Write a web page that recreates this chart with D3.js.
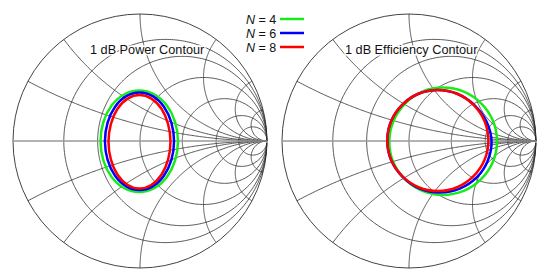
<!DOCTYPE html>
<html><head><meta charset="utf-8">
<script src="https://cdn.jsdelivr.net/npm/d3@7"></script>
<style>
body{margin:0;background:#fff;}
svg{display:block;}
text{font-family:"Liberation Sans",Arial,sans-serif;}
</style></head>
<body>
<svg id="c" width="550" height="278"></svg>
<script>
// ---- grid values (normalized impedance) ----
const resistanceValues = [0.25, 0.5, 1, 2, 4, 8];
const reactanceValues = [0.25, 0.5, 1, 2, 4, 8];

// ---- series ----
const seriesNames = ["N = 4", "N = 6", "N = 8"];
const seriesColors = ["#18ec18", "#0000ff", "#ff0000"];
const panelTitles = ["1 dB Power Contour", "1 dB Efficiency Contour"];

// Reflection-coefficient points [Re, Im]
const powerN4 = [[0.299,-0.002],[0.276,0.151],[0.210,0.281],[0.111,0.368],[-0.006,0.398],[-0.123,0.368],[-0.222,0.281],[-0.288,0.151],[-0.311,-0.002],[-0.288,-0.155],[-0.222,-0.285],[-0.123,-0.372],[-0.006,-0.402],[0.111,-0.372],[0.210,-0.285],[0.276,-0.155]];
const powerN6 = [[0.268,-0.002],[0.247,0.145],[0.188,0.270],[0.100,0.353],[-0.004,0.382],[-0.108,0.353],[-0.196,0.270],[-0.255,0.145],[-0.276,-0.002],[-0.255,-0.149],[-0.196,-0.274],[-0.108,-0.357],[-0.004,-0.386],[0.100,-0.357],[0.188,-0.274],[0.247,-0.149]];
const powerN8 = [[0.240,-0.006],[0.221,0.135],[0.169,0.254],[0.089,0.334],[-0.004,0.362],[-0.097,0.334],[-0.177,0.254],[-0.229,0.135],[-0.248,-0.006],[-0.229,-0.147],[-0.177,-0.266],[-0.097,-0.346],[-0.004,-0.374],[0.089,-0.346],[0.169,-0.266],[0.221,-0.147]];

const effN4 = [[0.693,-0.002],[0.661,0.160],[0.568,0.297],[0.431,0.389],[0.268,0.421],[0.105,0.389],[-0.030,0.295],[-0.122,0.158],[-0.155,-0.002],[-0.125,-0.164],[-0.032,-0.301],[0.105,-0.393],[0.262,-0.425],[0.431,-0.393],[0.568,-0.301],[0.661,-0.164]];
const effN6 = [[0.650,-0.004],[0.612,0.150],[0.515,0.283],[0.379,0.372],[0.227,0.402],[0.075,0.372],[-0.054,0.285],[-0.141,0.156],[-0.171,0.004],[-0.141,-0.150],[-0.050,-0.282],[0.085,-0.375],[0.240,-0.405],[0.400,-0.375],[0.535,-0.285],[0.620,-0.155]];
const effN8 = [[0.625,0.004],[0.595,0.156],[0.508,0.285],[0.379,0.372],[0.227,0.402],[0.075,0.372],[-0.054,0.285],[-0.141,0.156],[-0.171,0.004],[-0.141,-0.148],[-0.054,-0.277],[0.075,-0.364],[0.227,-0.394],[0.379,-0.364],[0.508,-0.277],[0.595,-0.148]];

const panels = [
  {cx:140, cy:141, R:127, title:panelTitles[0], tx:90, ty:54, series:[powerN4, powerN6, powerN8]},
  {cx:409, cy:141, R:127, title:panelTitles[1], tx:345, ty:54, series:[effN4, effN6, effN8]}
];

const svg = d3.select("#c");

function gamma(r, x){ // z -> Gamma
  const dr = (r+1)*(r+1) + x*x;
  return [((r*r + x*x) - 1)/dr, (2*x)/dr];
}

panels.forEach((p, pi) => {
  const xs = d3.scaleLinear().domain([-1,1]).range([p.cx-p.R, p.cx+p.R]);
  const ys = d3.scaleLinear().domain([-1,1]).range([p.cy+p.R, p.cy-p.R]);
  const line = d3.line().x(d=>xs(d[0])).y(d=>ys(d[1]));
  const g = svg.append("g");
  const clipId = "clip"+pi;
  svg.append("clipPath").attr("id", clipId).append("circle")
    .attr("cx", xs(0)).attr("cy", ys(0)).attr("r", xs(1)-xs(0)+0.5);
  const grid = g.append("g").attr("clip-path", `url(#${clipId})`)
    .attr("fill","none").attr("stroke","#2e2e2e").attr("stroke-width",0.8);

  resistanceValues.forEach(r => {
    const pts = d3.range(-89.5, 89.6, 0.5).map(a => gamma(r, Math.tan(a*Math.PI/180)));
    pts.push([1,0]);
    grid.append("path").attr("d", line(pts));
  });
  reactanceValues.forEach(xv => {
    [xv, -xv].forEach(x => {
      const pts = d3.range(0, 89.6, 0.5).map(a => gamma(Math.tan(a*Math.PI/180), x));
      pts.push([1,0]);
      grid.append("path").attr("d", line(pts));
    });
  });
  g.append("circle").attr("cx", xs(0)).attr("cy", ys(0)).attr("r", xs(1)-xs(0))
    .attr("fill","none").attr("stroke","#2e2e2e").attr("stroke-width",0.9);
  g.append("line").attr("x1", xs(-1)).attr("x2", xs(1)).attr("y1", ys(0)).attr("y2", ys(0))
    .attr("stroke","#9a9a9a").attr("stroke-width",1.4);

  g.append("text").attr("x", p.tx).attr("y", p.ty).text(p.title)
    .attr("font-size", 12.7).attr("fill","#111")
    .attr("stroke","#fff").attr("stroke-width",3).attr("paint-order","stroke");

  const cl = d3.line().x(d=>xs(d[0])).y(d=>ys(d[1])).curve(d3.curveCardinalClosed.tension(0));
  p.series.forEach((s, si) => {
    g.append("path").attr("d", cl(s)).attr("fill","none")
      .attr("stroke", seriesColors[si]).attr("stroke-width", 2.5);
  });
});

const lg = svg.append("g");
seriesNames.forEach((name, i) => {
  const y = 19 + i*14;
  const t = lg.append("text").attr("x", 246).attr("y", y+4.5).attr("font-size", 12.5).attr("fill","#111");
  t.append("tspan").attr("font-style","italic").text(name.split(" ")[0]);
  t.append("tspan").text(" " + name.split(" ").slice(1).join(" "));
  lg.append("line").attr("x1", 280).attr("x2", 304).attr("y1", y).attr("y2", y)
    .attr("stroke", seriesColors[i]).attr("stroke-width", 2.5);
});
</script>
</body></html>
